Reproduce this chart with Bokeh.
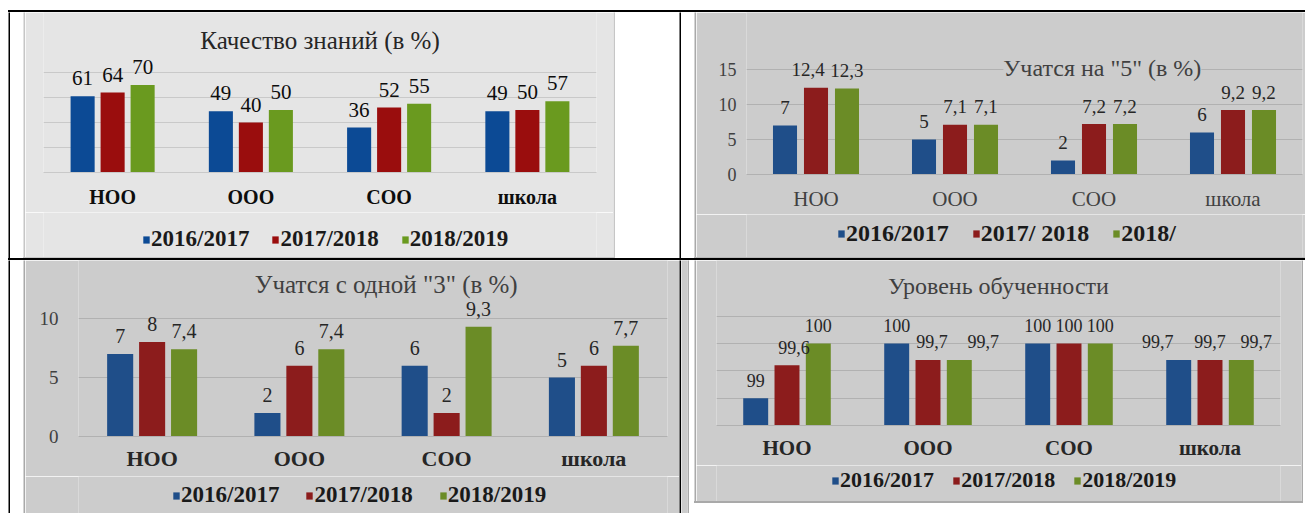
from bokeh.plotting import figure
from bokeh.models import FactorRange, Range1d, FixedTicker, Label, Legend, LegendItem, ColumnDataSource, Spacer, Div
from bokeh.transform import dodge
from bokeh.layouts import row, column
from bokeh.core.properties import value
from bokeh.embed import file_html
from bokeh.resources import INLINE

# ---------------- data ----------------
categories = ["НОО", "ООО", "СОО", "школа"]
years = ["2016/2017", "2017/2018", "2018/2019"]
years_excellent = ["2016/2017", "2017/ 2018", "2018/"]

quality_2016 = [61, 49, 36, 49]
quality_2017 = [64, 40, 52, 50]
quality_2018 = [70, 50, 55, 57]

excellent_2016 = [7, 5, 2, 6]
excellent_2017 = [12.4, 7.1, 7.2, 9.2]
excellent_2018 = [12.3, 7.1, 7.2, 9.2]

one_three_2016 = [7, 2, 6, 5]
one_three_2017 = [8, 6, 2, 6]
one_three_2018 = [7.4, 7.4, 9.3, 7.7]

level_2016 = [99, 100, 100, 99.7]
level_2017 = [99.6, 99.7, 100, 99.7]
level_2018 = [100, 99.7, 100, 99.7]

ticks_quality = [0, 20, 40, 60, 80]
ticks_excellent = [0, 5, 10, 15]
ticks_one_three = [0, 5, 10]
ticks_level = [98.5, 99, 99.5, 100, 100.5]

title_quality = "Качество знаний (в %)"
title_excellent = 'Учатся на "5" (в %)'
title_one_three = 'Учатся с одной "3" (в %)'
title_level = "Уровень обученности"

# label nudges in pixels (style only: how the data labels were spread apart)
NO_NUDGE = [[0, 0, 0, 0], [0, 0, 0, 0], [0, 0, 0, 0]]
nudge_excellent = [[0, 0, 0, 0], [-8, 0, 0, 0], [0, 0, 0, 0]]
nudge_level = [[0, 0, 0, -21], [7, 4, 0, 0], [0, 24, 0, 15]]

FONT = "Liberation Serif"
COLORS_A = ["#0c4a95", "#9a0d0d", "#6a9a1f"]
COLORS_B = ["#1f4e89", "#8c1c1c", "#6b8c26"]
AXIS_ROOM = 40


def fmt(v):
    return str(int(v)) if float(v).is_integer() else str(v).replace(".", ",")


def strip(w, h, color):
    p = figure(width=w, height=h, toolbar_location=None, output_backend="svg",
               x_axis_location=None, y_axis_location=None, min_border=0, title=None,
               border_fill_color=color, background_fill_color=color,
               outline_line_color=None, x_range=(0, 1), y_range=(0, 1))
    p.grid.visible = False
    return p


def hline(w, h, color):
    return Div(text="", width=w, height=h, margin=0,
               styles={"background-color": color, "padding": "0", "margin": "0"})


def make_chart(c):
    p = figure(width=c["w"], height=c["h"] - c["leg_h"],
               x_range=FactorRange(factors=categories, range_padding=0),
               y_range=Range1d(c["y0"], c["y1"]),
               toolbar_location=None, output_backend="svg", title=None,
               x_axis_location="below",
               y_axis_location="left" if c["show_y"] else None,
               min_border_left=c["mbl"], min_border_right=c["mbr"],
               min_border_bottom=AXIS_ROOM, min_border_top=0,
               background_fill_color=c["bg"], border_fill_color=c["bg"],
               outline_line_color=None)
    p.xgrid.grid_line_color = None
    p.ygrid.ticker = FixedTicker(ticks=c["ticks"])
    p.ygrid.grid_line_color = c["grid"]
    ax = p.xaxis[0]
    ax.axis_line_color = c["grid"]
    ax.major_tick_line_color = None
    ax.minor_tick_line_color = None
    ax.major_tick_out = 0
    ax.major_tick_in = 0
    ax.major_label_standoff = c["cat_standoff"]
    ax.major_label_text_font = FONT
    ax.major_label_text_font_size = f'{c["cat_size"]}px'
    ax.major_label_text_font_style = c["cat_style"]
    ax.major_label_text_color = c["cat_color"]
    if c["show_y"]:
        ay = p.yaxis[0]
        ay.ticker = FixedTicker(ticks=c["ticks"])
        ay.axis_line_color = None
        ay.major_tick_line_color = None
        ay.minor_tick_line_color = None
        ay.major_tick_out = 0
        ay.major_tick_in = 0
        ay.major_label_standoff = c["y_standoff"]
        ay.major_label_text_font = FONT
        ay.major_label_text_font_size = f'{c["y_size"]}px'
        ay.major_label_text_color = "#404040"

    # legend strip underneath (same background); its frame lines up with the chart frame
    q = figure(width=c["w"], height=c["leg_h"], toolbar_location=None, output_backend="svg",
               x_axis_location=None, y_axis_location=None, min_border=0, title=None,
               background_fill_color=c["bg"], border_fill_color=c["bg"],
               outline_line_color=None, x_range=(0, 1), y_range=(0, 1))
    q.grid.visible = False

    sources = []
    for i, (vals, col, dx) in enumerate(zip(c["series"], c["colors"], c["nudge"])):
        src = ColumnDataSource(dict(cat=categories, v=vals, t=[fmt(x) for x in vals], dx=dx))
        sources.append(src)
        xs = dodge("cat", (i - 1) * c["off"], range=p.x_range)
        p.vbar(x=xs, top="v", bottom=c["y0"], width=c["bar_w"], source=src,
               fill_color=col, line_color=None)

    items = []
    for i, (src, col, lab) in enumerate(zip(sources, c["colors"], c["legend"])):
        xs = dodge("cat", (i - 1) * c["off"], range=p.x_range)
        p.text(x=xs, y="v", text="t", source=src, text_align="center",
               text_baseline="alphabetic", y_offset=-18, x_offset="dx", text_font=value(FONT),
               text_font_size=f'{c["val_size"]}px', text_color=c["val_color"])
        sw = q.vbar(x="v", top="v", width=0.1, source=src,
                    fill_color=col, line_color=None, visible=False)
        items.append(LegendItem(label=lab, renderers=[sw]))

    leg = Legend(items=items, orientation="horizontal", location=(c["leg_x"], c["leg_y"]),
                 label_text_font=FONT, label_text_font_size=f'{c["leg_size"]}px',
                 label_text_font_style="bold", label_text_color="#1a1a1a",
                 label_text_baseline="alphabetic",
                 glyph_width=8, glyph_height=9, label_standoff=1, spacing=c["leg_spacing"],
                 padding=0, margin=0, background_fill_alpha=0,
                 inactive_fill_alpha=0, border_line_color=None, label_height=10)
    q.add_layout(leg)

    t = Label(x=c["tx"], y=c["ty"], text=c["title"], text_font=FONT,
              text_font_size=f'{c["tsize"]}px', text_color=c["tcolor"],
              text_align="center", text_baseline="middle",
              background_fill_color=c["bg"] if c["tbg"] else None)
    p.add_layout(t)
    return column(p, q)


chart1 = make_chart(dict(
    w=588, h=245, leg_h=45, bg="#e5e5e5", grid="#c9c9c9", mbl=18, mbr=17, y0=0, y1=128,
    ticks=ticks_quality, show_y=False, series=[quality_2016, quality_2017, quality_2018],
    legend=years, colors=COLORS_A, bar_w=0.174, off=0.217, nudge=NO_NUDGE,
    title=title_quality, tx=2.0, ty=106, tsize=25, tcolor="#262626", tbg=False,
    cat_size=20, cat_style="bold", cat_color="#0d0d0d", cat_standoff=13,
    leg_size=23, leg_x=99, leg_y=5, leg_spacing=22,
    val_size=21, val_color="#0d0d0d"))

chart2 = make_chart(dict(
    w=609, h=245, leg_h=43, bg="#cccccc", grid="#b1b1b1", mbl=50, mbr=3, y0=0, y1=162 / 7,
    ticks=ticks_excellent, show_y=True, y_standoff=10, y_size=18,
    series=[excellent_2016, excellent_2017, excellent_2018],
    legend=years_excellent, colors=COLORS_B, bar_w=0.173, off=0.223, nudge=nudge_excellent,
    title=title_excellent, tx=2.56, ty=15.2, tsize=24, tcolor="#404040", tbg=True,
    cat_size=21, cat_style="normal", cat_color="#404040", cat_standoff=12,
    leg_size=24, leg_x=91, leg_y=10, leg_spacing=23,
    val_size=19, val_color="#262626"))

chart3 = make_chart(dict(
    w=654, h=253, leg_h=37, bg="#cccccc", grid="#b1b1b1", mbl=53, mbr=12, y0=0, y1=176 / 11.8,
    ticks=ticks_one_three, show_y=True, y_standoff=20, y_size=19,
    series=[one_three_2016, one_three_2017, one_three_2018],
    legend=years, colors=COLORS_B, bar_w=0.177, off=0.217, nudge=NO_NUDGE,
    title=title_one_three, tx=2.09, ty=12.88, tsize=25, tcolor="#404040", tbg=False,
    cat_size=22, cat_style="bold", cat_color="#262626", cat_standoff=9,
    leg_size=23, leg_x=94, leg_y=5, leg_spacing=26,
    val_size=20, val_color="#262626"))

chart4 = make_chart(dict(
    w=605, h=241, leg_h=36, bg="#cccccc", grid="#b1b1b1", mbl=20, mbr=21, y0=98.5,
    y1=98.5 + 165 / 54.67, ticks=ticks_level, show_y=False,
    series=[level_2016, level_2017, level_2018],
    legend=years, colors=COLORS_B, bar_w=0.177, off=0.222, nudge=nudge_level,
    title=title_level, tx=2.0, ty=101.06, tsize=24, tcolor="#404040", tbg=False,
    cat_size=21, cat_style="bold", cat_color="#262626", cat_standoff=10,
    leg_size=22, leg_x=115, leg_y=8, leg_spacing=18,
    val_size=18, val_color="#262626"))

B1 = "#c6c6c6"
B2 = "#a9a9a9"
BLACK = "#000000"

box1 = column(row(strip(2, 245, B1), chart1, strip(2, 245, B1)), hline(592, 1, B1))
box2 = column(row(strip(2, 245, B2), chart2), hline(611, 1, "#b8b8b8"))
box4 = column(row(strip(2, 241, B2), chart4, strip(2, 241, B2)), hline(609, 2, B2),
              Spacer(width=609, height=10))

row1 = row(Spacer(width=8, height=246), strip(2, 246, BLACK), Spacer(width=13, height=246), box1,
           Spacer(width=64, height=246), strip(2, 246, BLACK),
           Spacer(width=13, height=246), box2)
row2 = row(Spacer(width=8, height=253), strip(2, 253, BLACK), Spacer(width=13, height=253),
           strip(2, 253, B2), chart3,
           strip(2, 253, BLACK), strip(6, 253, "#cccccc"), strip(2, 253, B2),
           Spacer(width=5, height=253), box4, Spacer(width=2, height=253))

page = column(Spacer(width=1305, height=10),
              row(Spacer(width=8, height=2), hline(1297, 2, BLACK)),
              row1,
              row(Spacer(width=8, height=2), hline(1297, 2, BLACK)),
              row2)

open("out.html", "w").write(file_html(page, INLINE))
